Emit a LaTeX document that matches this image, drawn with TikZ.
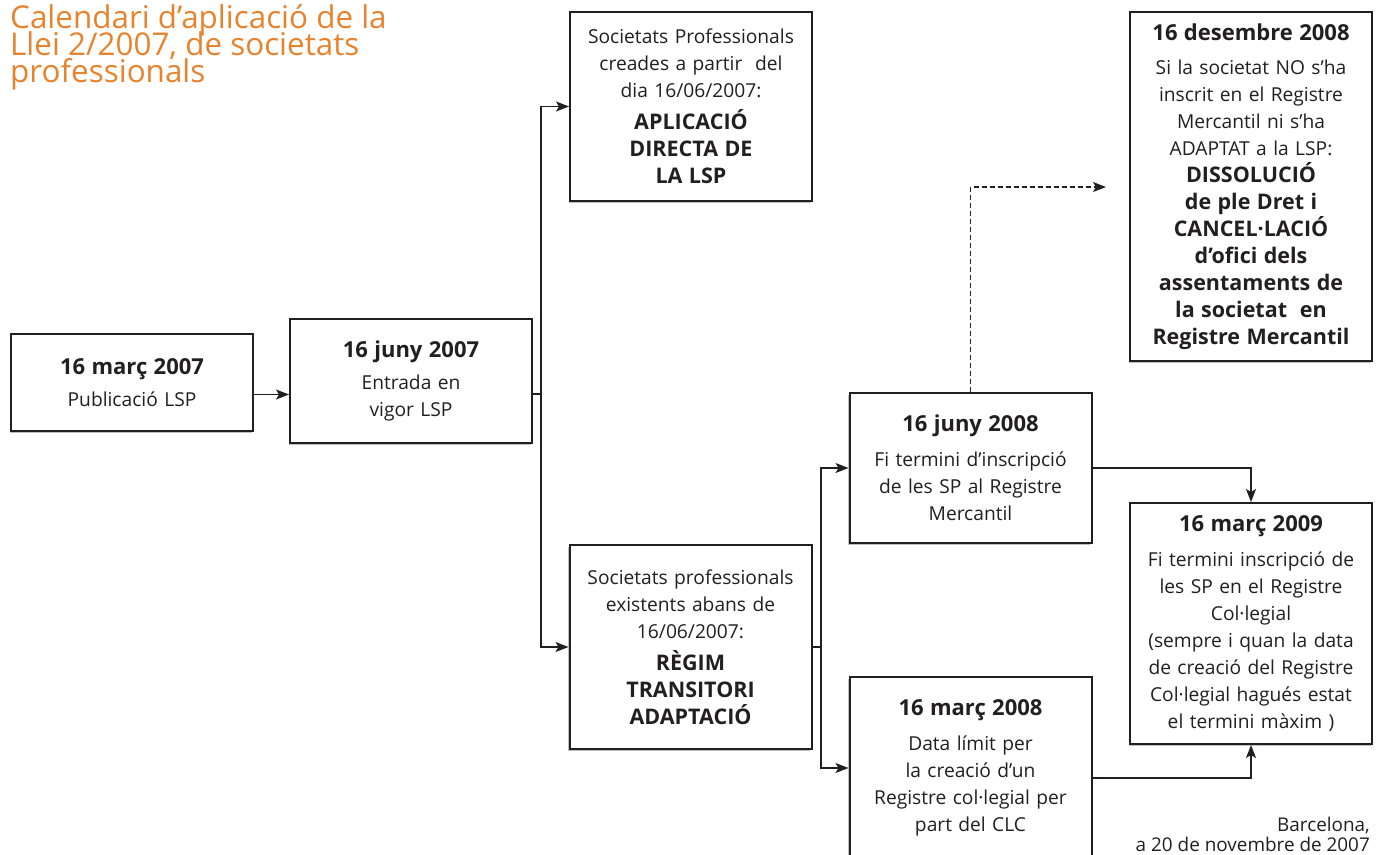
\documentclass[tikz,border=0pt]{standalone}
\usepackage{fontspec}
\setmainfont{Open Sans}
\usetikzlibrary{arrows.meta,shadows}
\definecolor{ttl}{RGB}{232,131,45}
\definecolor{ink}{RGB}{35,31,32}
\newcommand\hdr[1]{{\fontsize{22}{27}\selectfont\bfseries #1}}
\newcommand\bigbold{\fontsize{21.5}{27}\selectfont\bfseries}
\newcommand\tightls{\lineskiplimit=-30pt\relax}
\tikzset{
  box/.style={draw=ink, line width=2pt, fill=white, minimum width=242, text width=238,
    align=center, inner sep=0pt, font=\fontsize{19.2}{27}\selectfont\tightls, text=ink,
    drop shadow={shadow xshift=-1.5pt, shadow yshift=-2pt, opacity=0.25, fill=black}},
  conn/.style={draw=ink, line width=1.3pt, -{Stealth[length=13pt,width=10pt,inset=3pt]}},
  link/.style={draw=ink, line width=1.3pt},
}
\begin{document}
\begin{tikzpicture}[x=1pt,y=-1pt]
\useasboundingbox (0,0) rectangle (1380,854);

\node[anchor=north west, inner sep=0pt, text=ttl, align=left,
      font=\fontsize{31.4}{27}\selectfont\tightls] (title) at (10,4)
  {Calendari d’aplicació de la\\ Llei 2/2007, de societats\\ professionals};

\node[box, minimum height=97] (a) at (132,382.5)
  {\hdr{16 març 2007}\\[5pt] Publicació LSP};
\node[box, minimum height=124] (b) at (411,381)
  {\hdr{16 juny 2007}\\[5pt] Entrada en\\ vigor LSP};
\node[box, minimum height=189] (c) at (691,106.5)
  {Societats Professionals\\ creades a partir\ \ del\\ dia 16/06/2007:\\[5pt]
   \bigbold APLICACIÓ\\ DIRECTA DE\\ LA LSP};
\node[box, minimum height=204] (d) at (690.5,647)
  {Societats professionals\\ existents abans de\\ 16/06/2007:\\[5pt]
   \bigbold RÈGIM\\ TRANSITORI\\ ADAPTACIÓ};
\node[box, minimum height=150] (e) at (970.5,468)
  {\hdr{16 juny 2008}\\[8pt] Fi termini d’inscripció\\ de les SP al Registre\\ Mercantil};
\node[box, minimum height=182] (f) at (970.5,768)
  {\hdr{16 març 2008}\\[8pt] Data límit per\\ la creació d’un\\ Registre col·legial per\\ part del CLC};
\node[box, minimum height=349] (g) at (1251,186.5)
  {\hdr{16 desembre 2008}\\[7pt] Si la societat NO s’ha\\ inscrit en el Registre\\ Mercantil ni s’ha\\ ADAPTAT a la LSP:\\
   \bigbold DISSOLUCIÓ\\ de ple Dret i\\ CANCEL·LACIÓ\\ d’ofici dels\\ assentaments de\\ la societat\ \ en\\ Registre Mercantil};
\node[box, minimum height=241] (h) at (1251,623.5)
  {\hdr{16 març 2009}\\[8pt] Fi termini inscripció de\\ les SP en el Registre\\ Col·legial\\ (sempre i quan la data\\ de creació del Registre\\ Col·legial hagués estat\\ el termini màxim )};

\node[anchor=south east, inner sep=0pt, align=right, text=ink,
      font=\fontsize{18.9}{20}\selectfont\tightls] (place) at (1370,852)
  {Barcelona,\\ a 20 de novembre de 2007};

\coordinate (j1) at (541,394);
\coordinate (j2) at (821,647);
\coordinate (dend) at (1106,187);

\draw[conn] ([yshift=-12pt]a.east) -- ([yshift=-12pt]a.east -| b.west);
\draw[link] (b.east |- j1) -- (j1);
\draw[conn] (j1) |- (c.west);
\draw[conn] (j1) |- (d.west);
\draw[link] (d.east) -- (j2);
\draw[conn] (j2) |- (e.west);
\draw[conn] (j2) |- (f.west);
\draw[conn] (e.east) -| (h.north);
\draw[conn] ([yshift=-10pt]f.east) -| (h.south);
\draw[conn, dash pattern=on 5pt off 3pt] (e.north) |- (dend);
\end{tikzpicture}
\end{document}
